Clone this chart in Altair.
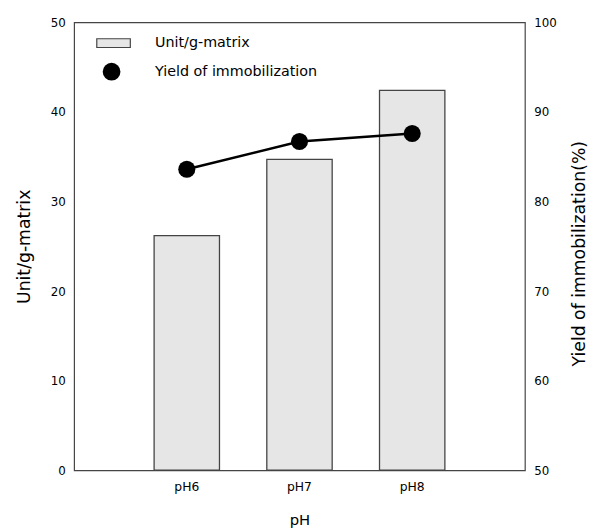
import altair as alt
import pandas as pd

# ---- data ----
ph = ["pH6", "pH7", "pH8"]
unit_per_g = [26.2, 34.7, 42.4]          # left axis, bars
yield_pct = [83.6, 86.7, 87.6]           # right axis, line + points

bar_series = "Unit/g-matrix"
line_series = "Yield of immobilization"
left_ticks = [0, 10, 20, 30, 40, 50]
right_ticks = [50, 60, 70, 80, 90, 100]

df = pd.DataFrame({
    "pH": ph,
    "unit": unit_per_g,
    "yield": yield_pct,
    "s1": [bar_series] * len(ph),
    "s2": [line_series] * len(ph),
})

FONT = "DejaVu Sans"

x_enc = alt.X(
    "pH:N",
    sort=ph,
    scale=alt.Scale(paddingInner=0.42, paddingOuter=0.71),
    axis=alt.Axis(
        title="pH", labelAngle=0, ticks=False, domain=False, grid=False,
        labelFontSize=12.5, labelPadding=11, labelBaseline="top",
        titleFontSize=15, titleY=50, titleBaseline="middle",
    ),
)

y_left = alt.Y(
    "unit:Q",
    scale=alt.Scale(domain=[0, 50], nice=False),
    axis=alt.Axis(
        title=bar_series, values=left_ticks, grid=False, domain=False, ticks=False,
        labelFontSize=12, labelPadding=9,
        titleFontSize=17.5, titleX=-50, titleY=227, titleAngle=270,
        titleAlign="center", titleBaseline="middle",
    ),
)

y_right = alt.Y(
    "yield:Q",
    scale=alt.Scale(domain=[50, 100], nice=False, zero=False),
    axis=alt.Axis(
        title="Yield of immobilization(%)", orient="right", values=right_ticks,
        grid=False, domain=False, ticks=False,
        labelFontSize=12, labelPadding=9,
        titleFontSize=17.5, titleX=55, titleY=234, titleAngle=270,
        titleAlign="center", titleBaseline="middle",
    ),
)

bars = alt.Chart(df).mark_bar(stroke="#444444", strokeWidth=1.3).encode(
    x=x_enc,
    y=y_left,
    fill=alt.Fill(
        "s1:N",
        scale=alt.Scale(domain=[bar_series], range=["#e6e6e6"]),
        legend=alt.Legend(
            title=None, orient="none", legendX=22, legendY=3, padding=0,
            symbolType="M-1,-0.26H1V0.26H-1Z", symbolSize=1156,
            symbolStrokeColor="#444444", symbolStrokeWidth=1.2,
            labelFontSize=14.5, labelOffset=24, labelLimit=0,
        ),
    ),
)

line = alt.Chart(df).mark_line(color="black", strokeWidth=2.5).encode(
    x=x_enc,
    y=y_right,
)

points = alt.Chart(df).mark_circle(size=300, opacity=1).encode(
    x=x_enc,
    y=y_right,
    color=alt.Color(
        "s2:N",
        scale=alt.Scale(domain=[line_series], range=["black"]),
        legend=alt.Legend(
            title=None, orient="none", legendX=28, legendY=40, padding=0,
            symbolType="circle", symbolSize=324, symbolOpacity=1,
            labelFontSize=14.5, labelOffset=34, labelLimit=0,
        ),
    ),
)

chart = (
    alt.layer(bars, alt.layer(line, points))
    .resolve_scale(y="independent")
    .properties(
        width=457,
        height=454,
        autosize=alt.AutoSizeParams(type="none"),
        padding={"left": 67, "top": 11, "right": 66, "bottom": 58},
    )
    .configure(font=FONT)
    .configure_view(stroke="#444444", strokeWidth=1.2)
    .configure_axis(labelColor="black", titleColor="black", titleFontWeight="normal",
                    labelFont=FONT, titleFont=FONT)
    .configure_legend(labelColor="black", labelFont=FONT)
)

chart.save("out.html", embed_options={"renderer": "svg", "actions": False})
